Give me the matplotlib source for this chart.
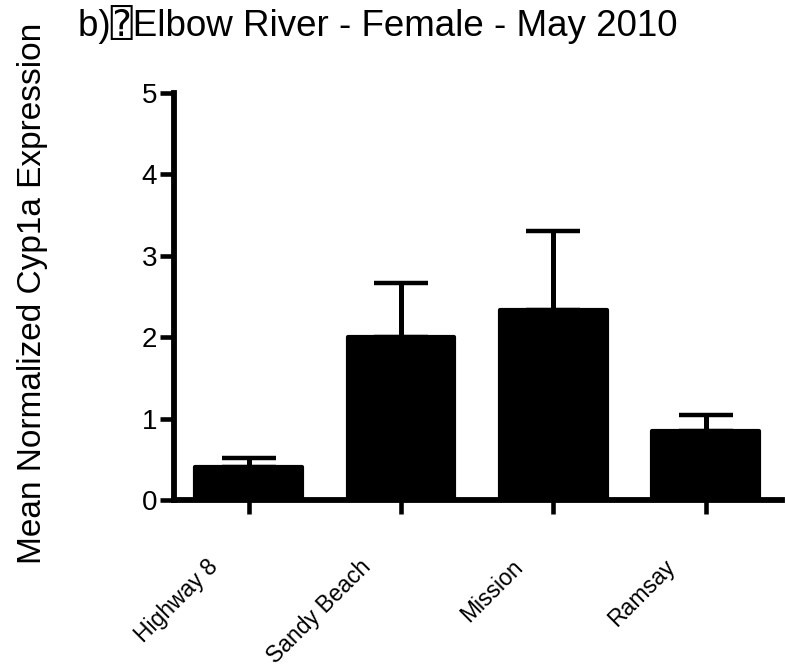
import matplotlib
matplotlib.use("Agg")
import matplotlib.pyplot as plt
import matplotlib.transforms as mtransforms
import numpy as np

sites = ["Highway 8", "Sandy Beach", "Mission", "Ramsay"]
mean_expr = [0.41, 2.0, 2.33, 0.85]
sem_expr = [0.10, 0.67, 0.98, 0.20]
y_ticks = [0, 1, 2, 3, 4, 5]

plt.rcParams['font.family'] = ['Liberation Sans', 'DejaVu Sans', 'DejaVu Sans Mono']

fig = plt.figure(figsize=(7.85, 6.67), dpi=100)
ax = fig.add_axes([174 / 785, 1 - 500 / 667, (782 - 174) / 785, (500 - 93) / 667])

x = np.arange(len(sites))
ax.bar(x, mean_expr, width=0.70, color='black', edgecolor='black',
       linewidth=3, joinstyle='round', zorder=2)
ax.errorbar(x, mean_expr, yerr=[np.zeros(len(sem_expr)), sem_expr], fmt='none',
            ecolor='black', elinewidth=3.6, capsize=19.4, capthick=3.2, zorder=3)

ax.set_xlim(-0.49, 3.5)
ax.set_ylim(0, 5)
ax.set_yticks(y_ticks)
ax.set_xticks(x)

for side in ['top', 'right']:
    ax.spines[side].set_visible(False)
ax.spines['left'].set_linewidth(4.2)
ax.spines['bottom'].set_linewidth(4.2)
ax.spines['left'].set_bounds(0, 5)
ax.tick_params(axis='both', direction='out', length=10, width=3.3, colors='black')
ax.tick_params(axis='y', labelsize=20, pad=2)

# rotated site names sit below and left of their ticks
ax.set_xticklabels(sites, rotation=45, ha='right', va='center', rotation_mode='anchor',
                   fontsize=16.5)
offset = mtransforms.ScaledTranslation(-34 / 100, -45 / 100, fig.dpi_scale_trans)
for lbl in ax.get_xticklabels():
    lbl.set_transform(lbl.get_transform() + offset)

fig.text(33 / 785, 1 - 293 / 667, "Mean Normalized Cyp1a Expression", rotation=90,
         ha='center', va='center', fontsize=24)
fig.text(78 / 785, 1 - 5 / 667, "b)\u2370Elbow River - Female - May 2010",
         ha='left', va='top', fontsize=26.5)

fig.savefig("out.png", dpi=100)
